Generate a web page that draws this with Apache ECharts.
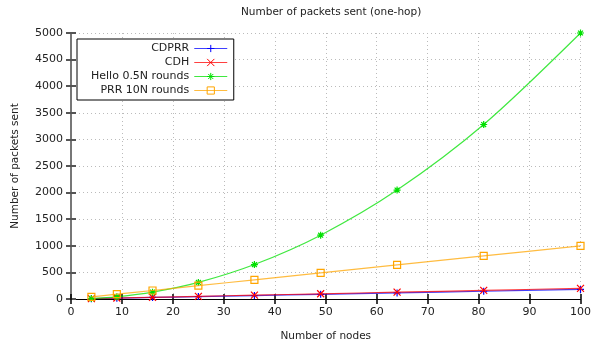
<!DOCTYPE html>
<html>
<head>
<meta charset="utf-8">
<script src="https://cdn.jsdelivr.net/npm/echarts@6/dist/echarts.min.js"></script>
<style>html,body{margin:0;padding:0;background:#fff}#c{width:594px;height:347px}</style>
</head>
<body>
<div id="c"></div>
<script>
const titleText = 'Number of packets sent (one-hop)';
const xName = 'Number of nodes';
const yName = 'Number of packets sent';
const nodes = [4, 9, 16, 25, 36, 49, 64, 81, 100];
const cdprr = [7, 16, 29, 45, 65, 88, 115, 146, 180];
const cdh = [8, 18, 32, 50, 72, 98, 128, 162, 200];
const hello = [8, 40, 128, 312, 648, 1200, 2048, 3280, 5000];
const prr = [40, 90, 160, 250, 360, 490, 640, 810, 1000];
const seriesNames = ['CDPRR', 'CDH', 'Hello 0.5N rounds', 'PRR 10N rounds'];
const seriesColors = ['#0000ff', '#ff0000', '#00e000', '#ffa500'];

const FONT = 'DejaVu Sans';
const pairs = arr => nodes.map((n, i) => [n, arr[i]]);
const symbols = [
  'path://M5,0L5,10M0,5L10,5',
  'path://M0,0L10,10M10,0L0,10',
  'path://M5,0L5,10M0,5L10,5M1.5,1.5L8.5,8.5M8.5,1.5L1.5,8.5',
  'path://M0,0L10,0L10,10L0,10Z'
];
const datas = [cdprr, cdh, hello, prr];

const chart = echarts.init(document.getElementById('c'));
const grid = {left: 71, right: 10, top: 33, bottom: 47};
const axisText = {fontFamily: FONT, fontSize: 11, color: '#222'};
const gridLine = {show: true, lineStyle: {color: '#bbb', type: [1, 3], width: 1}};

chart.setOption({
  animation: false,
  backgroundColor: '#fff',
  title: {
    text: titleText, left: 236, top: 2,
    textStyle: {fontFamily: FONT, fontSize: 10.5, fontWeight: 'normal', color: '#222'}
  },
  legend: {
    orient: 'vertical', align: 'right', left: 77, top: 39,
    padding: [4, 6, 4, 14], itemGap: 3, itemWidth: 33, itemHeight: 9,
    borderColor: '#000', borderWidth: 1, backgroundColor: '#fff',
    textStyle: {fontFamily: FONT, fontSize: 11, color: '#222'},
    itemStyle: {borderWidth: 1, color: 'rgba(255,255,255,0)'},
    lineStyle: {width: 1},
    data: seriesNames
  },
  grid: grid,
  xAxis: [{
    type: 'value', min: 0, max: 100, interval: 10,
    name: xName, nameLocation: 'middle', nameGap: 32,
    nameTextStyle: {fontFamily: FONT, fontSize: 10.5, color: '#222'},
    axisLine: {lineStyle: {color: '#000', width: 1}},
    axisTick: {inside: true, length: 5, lineStyle: {color: '#000', width: 1.5}},
    axisLabel: Object.assign({margin: 8}, axisText),
    splitLine: gridLine
  }, {
    type: 'value', position: 'top', min: 0, max: 100, interval: 10,
    axisLine: {show: true, lineStyle: {color: '#000', width: 1}},
    axisTick: {show: true, inside: true, length: 5, lineStyle: {color: '#000', width: 1.5}},
    axisLabel: {show: false}, splitLine: {show: false}
  }],
  yAxis: [{
    type: 'value', min: 0, max: 5000, interval: 500,
    name: yName, nameLocation: 'middle', nameGap: 50,
    nameTextStyle: {fontFamily: FONT, fontSize: 10.5, color: '#222'},
    axisLine: {show: true, lineStyle: {color: '#777', width: 2}},
    axisTick: {show: true, inside: true, length: 5, lineStyle: {color: '#555', width: 2}},
    axisLabel: Object.assign({margin: 8, formatter: v => String(v)}, axisText),
    splitLine: gridLine
  }, {
    type: 'value', position: 'right', min: 0, max: 5000, interval: 500,
    axisLine: {show: true, lineStyle: {color: '#777', width: 2}},
    axisTick: {show: true, inside: true, length: 5, lineStyle: {color: '#555', width: 2}},
    axisLabel: {show: false}, splitLine: {show: false}
  }],
  series: seriesNames.map((name, i) => ({
    name: name, type: 'line', xAxisIndex: 0, yAxisIndex: 0,
    data: pairs(datas[i]), smooth: 0.3,
    symbol: symbols[i], symbolSize: 7, showSymbol: true,
    color: seriesColors[i],
    lineStyle: {color: seriesColors[i], width: 1.2, opacity: 0.75},
    itemStyle: {color: 'rgba(255,255,255,0)', borderColor: seriesColors[i], borderWidth: 1.2},
    z: 2 + i
  }))
});
</script>
</body>
</html>
